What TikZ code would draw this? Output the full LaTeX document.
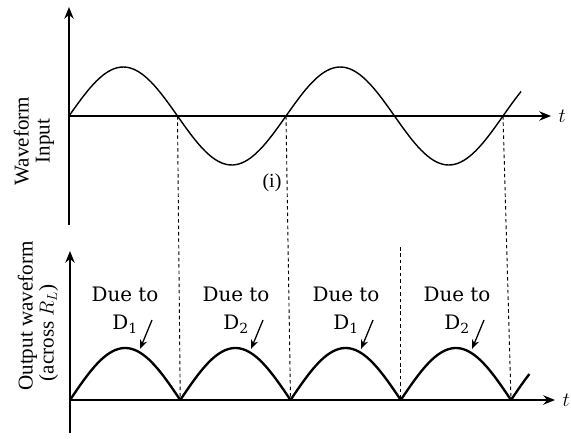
\documentclass[tikz,border=0pt]{standalone}
\usepackage{fontspec}
\setmainfont{DejaVu Serif}
\newfontfamily\timesfont{Liberation Serif}
\usetikzlibrary{arrows.meta}
\begin{document}
\begin{tikzpicture}[x=0.03cm,y=0.03cm,
axis/.style={line width=1.4pt,-{Stealth[length=10pt,width=8pt]}},
wave/.style={line width=1.2pt},
rectwave/.style={line width=2pt},
guide/.style={line width=0.8pt,dash pattern=on 3pt off 2.5pt},
lbl/.style={font=\timesfont\fontsize{18}{18}\selectfont,rotate=90},
due/.style={font=\fontsize{17}{24}\selectfont,align=center,inner sep=1pt},
pointer/.style={line width=1.1pt,-{Stealth[length=8pt,width=6.5pt]}}]
\useasboundingbox (0,0) rectangle (571,438);
% input waveform
\coordinate (o1) at (69,322);
\coordinate (ya1) at (69,213);
\coordinate (yb1) at (69,431);
\coordinate (xb1) at (551,322);
\coordinate (z1) at (177.5,322);
\coordinate (z2) at (286,322);
\coordinate (z4) at (503,322);
\draw[axis] (ya1)--(yb1);
\draw[axis] (o1)--(xb1);
\node[right=3pt] (t1) at (xb1) {\fontsize{19}{19}\selectfont$t$};
\draw[wave] plot[domain=0:750,samples=150] ({69+\x/180*108.5},{322+49*sin(\x)});
\node[font=\timesfont\fontsize{17}{18}\selectfont] (inp) at (272,255) {(i)};
\node[lbl,align=center] (ilbl) at (34,297) {Waveform\\Input};
% output waveform
\coordinate (o2) at (70,38);
\coordinate (ya2) at (70,5);
\coordinate (yb2) at (70,187);
\coordinate (xb2) at (555,38);
\draw[axis] (ya2)--(yb2);
\draw[axis] (o2)--(xb2);
\node[right=3pt] (t2) at (xb2) {\fontsize{19}{19}\selectfont$t$};
\foreach \k in {1,...,4}
  \coordinate (c\k) at ({70+110.25*\k},38);
\coordinate (g3) at (c3|-0,191);
\foreach \k in {0,...,3}
  \draw[rectwave] plot[domain=0:180,samples=40] ({70+110.25*(\k+\x/180)},{38+52*sin(\x)});
\draw[rectwave] plot[domain=0:30,samples=8] ({511+\x/180*110.25},{38+52*sin(\x)});
\node[lbl,align=left] (olbl) at (38,122) {Output waveform\\\hspace{8pt}(across $R_L$)};
% guide lines
\draw[guide] (z1)--(c1);
\draw[guide] (z2)--(c2);
\draw[guide] (g3)--(c3);
\draw[guide] (z4)--(c4);
% labels
\foreach \cx/\d/\n in {125/1/a,236/2/b,346/1/c,457/2/d}{
  \node[due] (due\n) at (\cx,128) {Due to\\D\textsubscript{\d}};
  \coordinate (q\n) at (\cx+27,118);
  \coordinate (p\n) at (\cx+15,89);
  \draw[pointer] (q\n)--(p\n);
}
\end{tikzpicture}
\end{document}
